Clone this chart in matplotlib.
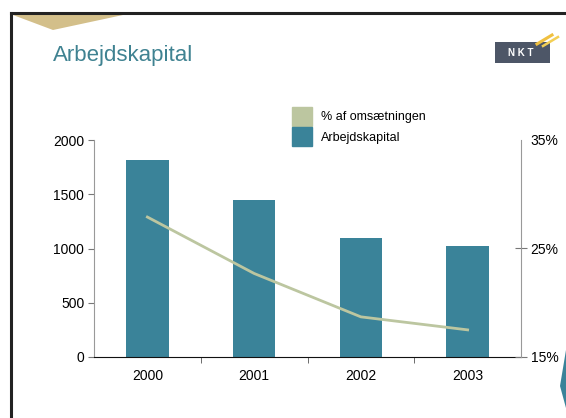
import matplotlib.pyplot as plt
from matplotlib.patches import Patch, Polygon, Rectangle
from matplotlib.lines import Line2D

plt.rcParams['font.family'] = ['Liberation Sans', 'DejaVu Sans']

years = ["2000", "2001", "2002", "2003"]
kapital = [1815, 1450, 1100, 1025]
pct = [27.9, 22.7, 18.7, 17.5]

bar_color = "#3a8399"
line_color = "#bcc6a0"

fig = plt.figure(figsize=(5.66, 4.18), dpi=100)
W, H = 566, 418

def fx(px):
    return px / W

def fy(py):
    return 1 - py / H

# slide decorations
fig.add_artist(Line2D([fx(11), 1], [fy(13), fy(13)], color="#222222", lw=2.2))
fig.add_artist(Line2D([fx(11), fx(11)], [fy(13), 0], color="#222222", lw=2.2))
fig.add_artist(Polygon([[fx(13), fy(15)], [fx(53), fy(30)], [fx(123), fy(15)]],
                       closed=True, color="#d3bf8a", lw=0))
fig.add_artist(Polygon([[fx(560), fy(386)], [fx(566), fy(350)], [fx(566), fy(408)]],
                       closed=True, color=bar_color, lw=0))
# logo
fig.add_artist(Rectangle((fx(495), fy(63)), fx(55), 21 / H, color="#4d5667", lw=0))
fig.text(fx(521), fy(53), "N K T", color="white", fontsize=7, fontweight="bold",
         ha="center", va="center")
fig.add_artist(Line2D([fx(537), fx(552)], [fy(44), fy(35)], color="#f0c040", lw=2.2))
fig.add_artist(Line2D([fx(543), fx(558)], [fy(46), fy(37)], color="#f3cf55", lw=1.8))

fig.text(fx(53), fy(56), "Arbejdskapital", color="#3f8291", fontsize=16,
         va="center", ha="left")

ax = fig.add_axes([fx(94), fy(357), fx(521) - fx(94), (357 - 140) / H])
x = list(range(len(years)))
ax.bar(x, kapital, width=0.4, color=bar_color, zorder=2)
ax.set_xlim(-0.5, 3.5)
ax.set_ylim(0, 2000)
ax.set_yticks([0, 500, 1000, 1500, 2000])
ax.set_xticks(x)
ax.set_xticklabels(years)
ax.set_xticks([0.5, 1.5, 2.5], minor=True)
ax.tick_params(axis="x", which="major", length=0, pad=9, labelsize=10)
ax.tick_params(axis="x", which="minor", length=4, color="#555555", direction="out")
ax.tick_params(axis="y", length=4, color="#777777", labelsize=10, pad=3)
ax.yaxis.get_major_ticks()[-1].tick1line.set_visible(False)
for s in ["top", "right"]:
    ax.spines[s].set_visible(False)
ax.spines["left"].set_color("#999999")
ax.spines["bottom"].set_color("#111111")
ax.spines["bottom"].set_zorder(5)

ax2 = ax.twinx()
ax2.plot(x, pct, color=line_color, lw=2, zorder=3)
ax2.set_ylim(15, 35)
ax2.set_yticks([15, 25, 35])
ax2.set_yticklabels(["15%", "25%", "35%"])
ax2.tick_params(axis="y", direction="inout", length=8, color="#777777", labelsize=10, pad=3)
ax2.yaxis.get_major_ticks()[-1].tick2line.set_visible(False)
for s in ["top", "left", "bottom"]:
    ax2.spines[s].set_visible(False)
ax2.spines["right"].set_color("#999999")

handles = [Patch(color=line_color), Patch(color=bar_color)]
labels = ["% af omsætningen", "Arbejdskapital"]
fig.legend(handles, labels, loc="upper left", bbox_to_anchor=(fx(292), fy(107)),
           frameon=False, fontsize=9, handlelength=1.6, handleheight=1.9,
           labelspacing=0.15, handletextpad=0.75, borderpad=0, borderaxespad=0)

fig.savefig("out.png", dpi=100)
